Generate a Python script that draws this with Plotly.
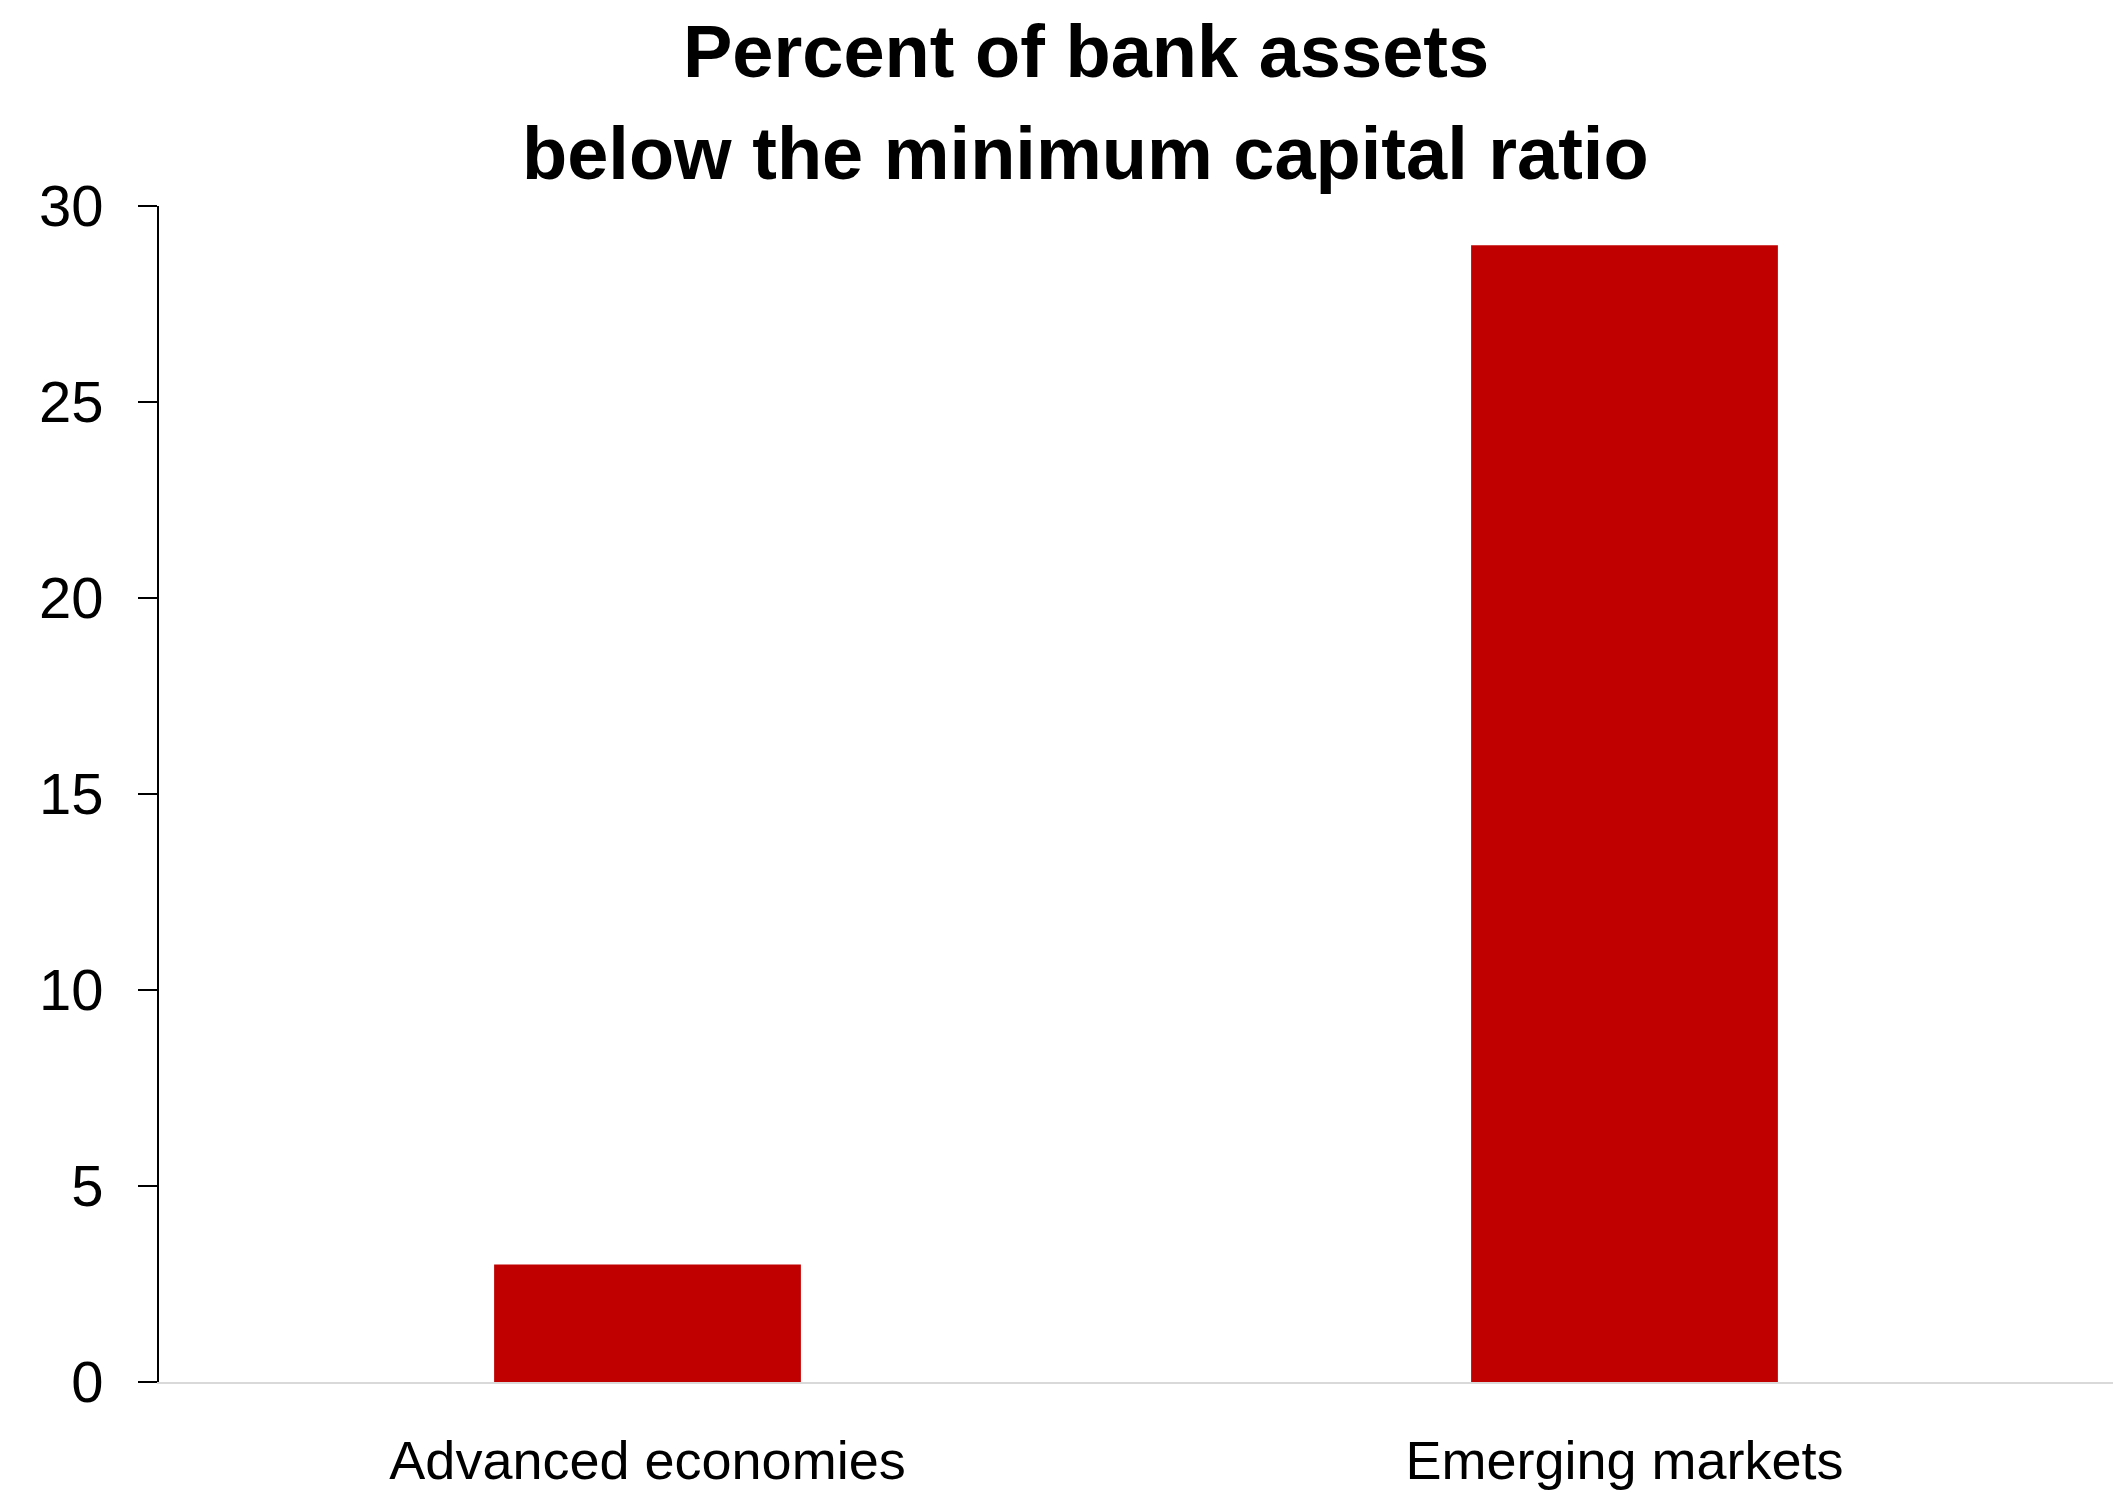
import plotly.graph_objects as go

# Share of bank assets held by banks below the minimum capital ratio
categories = ["Advanced economies", "Emerging markets"]
percent_below_minimum = [3, 29]
y_ticks = [0, 5, 10, 15, 20, 25, 30]
title_lines = ["Percent of bank assets", "below the minimum capital ratio"]

FONT = "Liberation Sans Narrow, Arial Narrow, Liberation Sans, Arial, sans-serif"

fig = go.Figure(
    go.Bar(
        x=categories,
        y=percent_below_minimum,
        marker=dict(color="#C00000", line=dict(width=0)),
        hoverinfo="x+y",
    )
)

fig.update_layout(
    width=2123,
    height=1493,
    margin=dict(l=159, r=10, t=206, b=111, pad=0),
    paper_bgcolor="white",
    plot_bgcolor="white",
    bargap=0.686,
    showlegend=False,
    font=dict(family=FONT, color="black", size=54),
)

# Two-line bold heading, placed line by line above the plot area
for line, ypos in zip(title_lines, [1.131, 1.045]):
    fig.add_annotation(
        text=f"<b>{line}</b>",
        xref="paper",
        yref="paper",
        x=0.4744,
        y=ypos,
        xanchor="center",
        yanchor="middle",
        showarrow=False,
        font=dict(family=FONT, size=74, color="black"),
    )

fig.update_xaxes(
    automargin=False,
    showgrid=False,
    showline=True,
    linecolor="#d9d9d9",
    linewidth=2,
    ticks="",
    tickfont=dict(family=FONT, size=54, color="black"),
    ticklabelstandoff=30,
)

fig.update_yaxes(
    automargin=False,
    range=[0, 30],
    tickvals=y_ticks,
    showgrid=False,
    zeroline=False,
    showline=True,
    linecolor="black",
    linewidth=2,
    ticks="outside",
    ticklen=19,
    tickwidth=2,
    tickcolor="black",
    tickfont=dict(family=FONT, size=58, color="black"),
    ticklabelstandoff=23,
)

fig.write_html("out.html")
